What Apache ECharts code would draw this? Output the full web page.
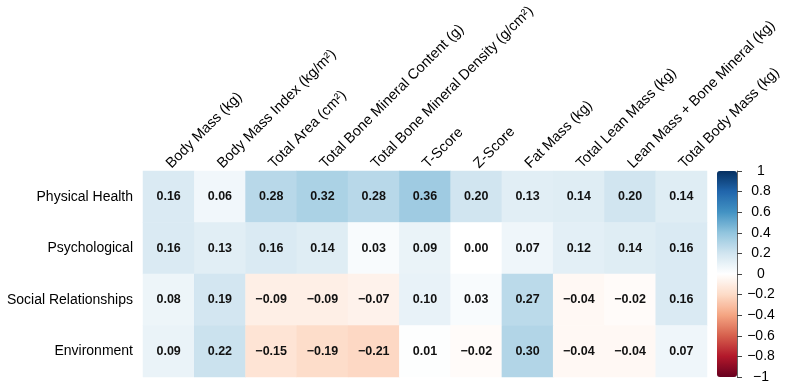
<!DOCTYPE html>
<html>
<head>
    <meta charset="utf-8">
    <title>Correlation heatmap</title>
    <script src="https://cdn.jsdelivr.net/npm/echarts@6/dist/echarts.min.js"></script>
    <style>
        html, body { margin: 0; padding: 0; background: #fff; }
    </style>
</head>
<body>
<div id="main" style="width: 787px;height:390px;"></div>
<script type="text/javascript">
    // 数据
    var columns = ['Body Mass (kg)', 'Body Mass Index (kg/m²)', 'Total Area (cm²)',
        'Total Bone Mineral Content (g)', 'Total Bone Mineral Density (g/cm²)', 'T-Score',
        'Z-Score', 'Fat Mass (kg)', 'Total Lean Mass (kg)', 'Lean Mass + Bone Mineral (kg)',
        'Total Body Mass (kg)'];
    var rows = ['Physical Health', 'Psychological', 'Social Relationships', 'Environment'];

    var physicalHealth = [0.16, 0.06, 0.28, 0.32, 0.28, 0.36, 0.20, 0.13, 0.14, 0.20, 0.14];
    var psychological = [0.16, 0.13, 0.16, 0.14, 0.03, 0.09, 0.00, 0.07, 0.12, 0.14, 0.16];
    var socialRelationships = [0.08, 0.19, -0.09, -0.09, -0.07, 0.10, 0.03, 0.27, -0.04, -0.02, 0.16];
    var environment = [0.09, 0.22, -0.15, -0.19, -0.21, 0.01, -0.02, 0.30, -0.04, -0.04, 0.07];

    var colorbarTicks = [-1, -0.8, -0.6, -0.4, -0.2, 0, 0.2, 0.4, 0.6, 0.8, 1];
    var rdbu = ['#67001F', '#B2182B', '#D6604D', '#F4A582', '#FDDBC7', '#FFFFFF',
        '#D1E5F0', '#92C5DE', '#4393C3', '#2166AC', '#053061'];

    var font = 'Liberation Sans, Arial, sans-serif';
    var allRows = [physicalHealth, psychological, socialRelationships, environment];
    var heatData = [];
    for (var r = 0; r < allRows.length; r++) {
        for (var c = 0; c < columns.length; c++) {
            heatData.push([c, r, allRows[r][c]]);
        }
    }

    function minus(s) {
        return String(s).replace('-', '\u2212');
    }

    var myChart = echarts.init(document.getElementById('main'));
    var option = {
        animation: false,
        grid: [
            {left: 143, top: 171, width: 564, height: 206},
            {left: 717, top: 171, width: 20, height: 206}
        ],
        xAxis: [
            {
                type: 'category',
                data: columns,
                position: 'top',
                gridIndex: 0,
                axisLine: {show: false},
                axisTick: {show: false},
                splitArea: {show: false},
                axisLabel: {
                    rotate: -45,
                    interval: 0,
                    margin: 5,
                    color: '#000',
                    fontFamily: font,
                    fontSize: 14.5
                }
            },
            {type: 'category', gridIndex: 1, show: false, data: ['']}
        ],
        yAxis: [
            {
                type: 'category',
                data: rows,
                inverse: true,
                gridIndex: 0,
                axisLine: {show: false},
                axisTick: {show: false},
                splitArea: {show: false},
                axisLabel: {
                    margin: 10,
                    color: '#000',
                    fontFamily: font,
                    fontSize: 14
                }
            },
            {
                type: 'value',
                gridIndex: 1,
                position: 'right',
                min: colorbarTicks[0],
                max: colorbarTicks[colorbarTicks.length - 1],
                interval: 0.2,
                splitLine: {show: false},
                axisLine: {show: true, lineStyle: {color: '#666', width: 1}},
                axisTick: {show: true, length: 5, lineStyle: {color: '#444'}},
                axisLabel: {
                    margin: 24,
                    align: 'center',
                    color: '#000',
                    fontFamily: font,
                    fontSize: 14,
                    formatter: function (v) {
                        return minus(Math.round(v * 10) / 10);
                    }
                }
            }
        ],
        visualMap: {
            type: 'continuous',
            min: -1,
            max: 1,
            seriesIndex: 0,
            calculable: false,
            hoverLink: false,
            padding: 0,
            left: 717,
            top: 171,
            itemWidth: 20,
            itemHeight: 206,
            text: null,
            inRange: {color: rdbu}
        },
        series: [{
            type: 'heatmap',
            xAxisIndex: 0,
            yAxisIndex: 0,
            data: heatData,
            label: {
                show: true,
                color: '#111',
                fontWeight: 'bold',
                fontFamily: font,
                fontSize: 12.5,
                formatter: function (p) {
                    return minus(p.value[2].toFixed(2));
                }
            },
            emphasis: {disabled: true}
        }]
    };
    myChart.setOption(option);
</script>
</body>
</html>
